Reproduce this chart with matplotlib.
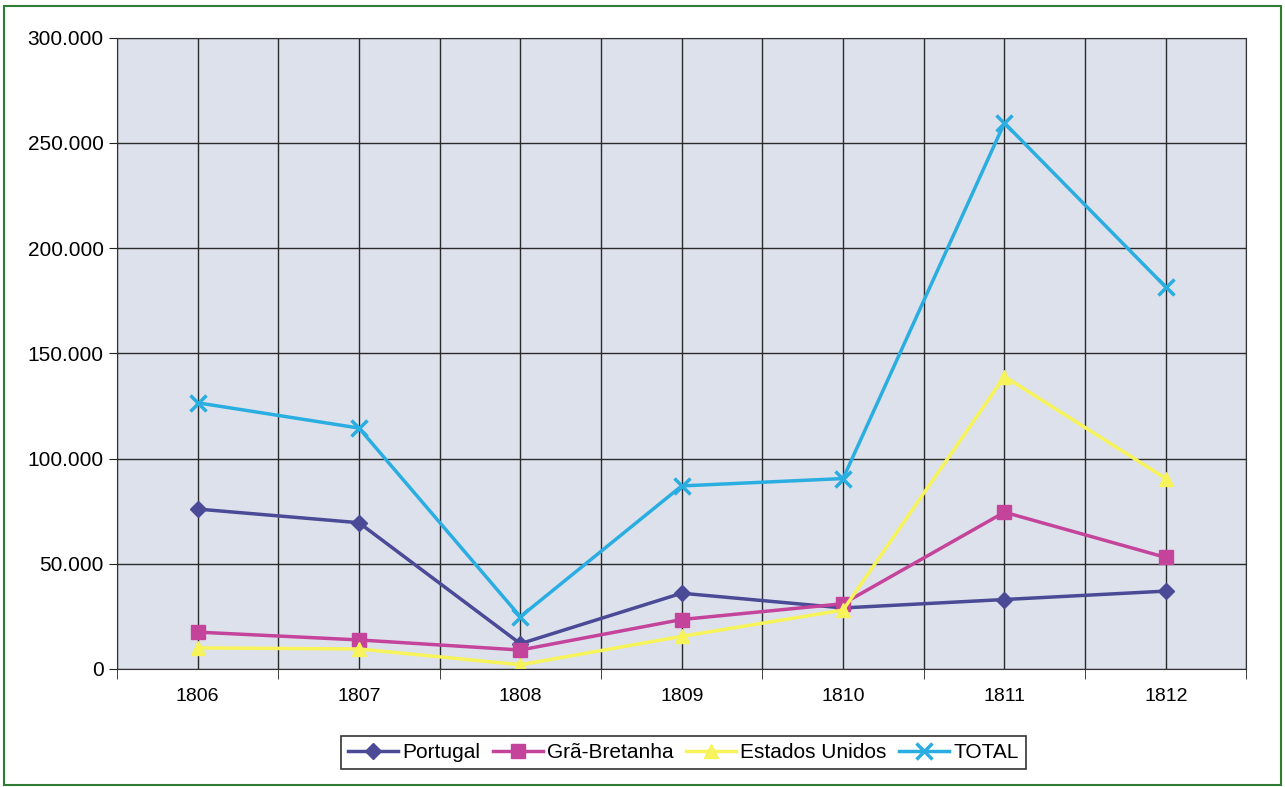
import matplotlib
matplotlib.use("Agg")
import matplotlib.pyplot as plt
from matplotlib.ticker import FuncFormatter, MultipleLocator

plt.rcParams['font.family'] = ['Liberation Sans', 'DejaVu Sans']

anos = ["1806", "1807", "1808", "1809", "1810", "1811", "1812"]
portugal = [76000, 69500, 12000, 36000, 29000, 33000, 37000]
gra_bretanha = [17500, 13800, 9000, 23500, 31000, 74500, 53000]
estados_unidos = [10000, 9500, 2000, 15500, 28000, 139000, 90500]
total = [126500, 114500, 24800, 87000, 90500, 259500, 181500]

fig = plt.figure(figsize=(12.85, 7.87), dpi=100)
ax = fig.add_axes([0.091, 0.150, 0.879, 0.802])
ax.set_facecolor("#dde1ec")

x = range(len(anos))
ax.plot(x, portugal, color="#4a4a96", lw=2.5, marker="D", ms=8, label="Portugal")
ax.plot(x, gra_bretanha, color="#c4449c", lw=2.5, marker="s", ms=10, label="Grã-Bretanha")
ax.plot(x, estados_unidos, color="#f6f45a", lw=2.5, marker="^", ms=10, label="Estados Unidos")
ax.plot(x, total, color="#2aaee2", lw=2.5, marker="x", ms=11, mew=2.5, label="TOTAL")

ax.set_xlim(-0.5, 6.5)
ax.set_ylim(0, 300000)
ax.set_xticks(list(x))
ax.set_xticklabels(anos)
ax.set_xticks([i + 0.5 for i in range(-1, 7)], minor=True)
ax.yaxis.set_major_locator(MultipleLocator(50000))
ax.yaxis.set_major_formatter(FuncFormatter(lambda v, p: f"{int(v):,}".replace(",", ".")))

ax.grid(True, which="both", axis="x", color="#2a2a2a", lw=1)
ax.grid(True, which="major", axis="y", color="#2a2a2a", lw=1)
ax.set_axisbelow(True)
ax.tick_params(axis="x", which="major", length=0, pad=14, labelsize=14)
ax.tick_params(axis="x", which="minor", length=7, color="#222222")
ax.tick_params(axis="y", length=6, labelsize=15, color="#222222")
for s in ax.spines.values():
    s.set_color("#333333")

leg = fig.legend(loc="center", bbox_to_anchor=(0.532, 0.044), ncol=4, fontsize=15,
                 frameon=True, fancybox=False, edgecolor="black", handlelength=2.4,
                 handletextpad=0.2, columnspacing=0.6, borderpad=0.35)
leg.get_frame().set_linewidth(1.2)

fig.patches.append(plt.Rectangle((0.003, 0.003), 0.994, 0.990, transform=fig.transFigure,
                                 fill=False, edgecolor="#2e7d32", lw=1.5))

fig.savefig("out.png", dpi=100)
